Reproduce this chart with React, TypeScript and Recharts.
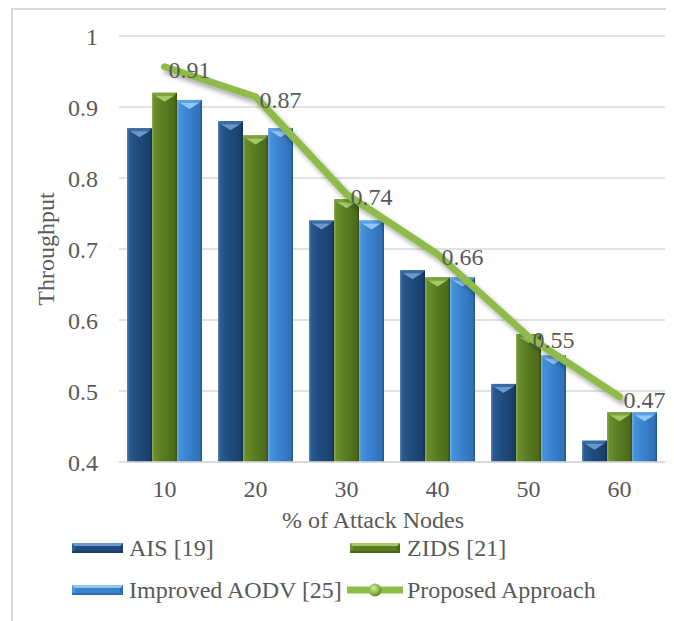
import { ComposedChart, Bar, Line, XAxis, YAxis, CartesianGrid, LabelList } from "recharts"

let categories = ["10", "20", "30", "40", "50", "60"]
let aisValues = [0.87, 0.88, 0.74, 0.67, 0.51, 0.43]
let zidsValues = [0.92, 0.86, 0.77, 0.66, 0.58, 0.47]
let aodvValues = [0.91, 0.87, 0.74, 0.66, 0.55, 0.47]
let proposedValues = [0.91, 0.87, 0.74, 0.66, 0.55, 0.47]
let yTicks = [0.4, 0.5, 0.6, 0.7, 0.8, 0.9, 1]

let chartData = categories.map((c, i) => ({
  name: c,
  ais: aisValues[i],
  zids: zidsValues[i],
  aodv: aodvValues[i],
  proposed: proposedValues[i],
}))

let FONT = "'Liberation Serif', 'Times New Roman', serif"
let FS = 24
let TEXT = "#595959"
let GRID = "#D9D9D9"
let LINE_GREEN = "#8EBB4A"

let tones: Record<string, { l: string; m: string; r: string; top: string; tri: string }> = {
  ais: { l: "#2C5F97", m: "#1F4B7C", r: "#183E67", top: "#3A6DA6", tri: "#6A98CC" },
  zids: { l: "#6E922F", m: "#5A7C22", r: "#49661A", top: "#7CA23A", tri: "#A5C865" },
  aodv: { l: "#4B95DF", m: "#3A82CE", r: "#2E6DB2", top: "#5AA2E6", tri: "#93C6F2" },
}

let BevelBar = (props: any) => {
  let { x, y, width, height, tone } = props
  if (!height || height <= 0) return null
  let c = tones[tone]
  let b = Math.min(9, height)
  return (
    <g>
      <rect x={x} y={y} width={width} height={height} fill={`url(#body-${tone})`} />
      <polygon points={`${x},${y} ${x + width},${y} ${x + width - 3},${y + 3} ${x + 3},${y + 3}`} fill={c.top} />
      <polygon points={`${x + 3},${y + 3} ${x + width - 3},${y + 3} ${x + width / 2},${y + b}`} fill={c.tri} />
      <rect x={x} y={y} width={1.5} height={height} fill="#ffffff" opacity={0.18} />
      <rect x={x + width - 1.5} y={y} width={1.5} height={height} fill="#000000" opacity={0.18} />
    </g>
  )
}

let YTitle = ({ viewBox }: any) => {
  let cx = viewBox.x + 33
  let cy = viewBox.y + viewBox.height / 2
  return (
    <text x={cx} y={cy} transform={`rotate(-90 ${cx} ${cy})`} textAnchor="middle" dominantBaseline="central"
      fill={TEXT} fontSize={FS} fontFamily={FONT}>
      Throughput
    </text>
  )
}

let XTitle = ({ viewBox }: any) => {
  let cx = viewBox.x + viewBox.width / 2 - 19
  let cy = viewBox.y + 58
  return (
    <text x={cx} y={cy} textAnchor="middle" dominantBaseline="central" fill={TEXT} fontSize={FS} fontFamily={FONT}>
      % of Attack Nodes
    </text>
  )
}

let PointLabel = ({ x, y, value }: any) => (
  <text x={x + 4} y={y + 3} dominantBaseline="central" fill={TEXT} fontSize={FS} fontFamily={FONT}>
    {value}
  </text>
)

let RectIcon = ({ tone, width }: { tone: string; width: number }) => {
  let c = tones[tone]
  return (
    <svg width={width} height={10} style={{ display: "block" }}>
      <rect x={0} y={0} width={width} height={10} fill={c.m} />
      <rect x={0} y={0} width={width} height={3} fill={c.tri} />
      <polygon points={`0,0 4,5 0,10`} fill={c.l} />
      <polygon points={`${width},0 ${width - 4},5 ${width},10`} fill={c.r} />
      <rect x={0} y={8} width={width} height={2} fill={c.r} />
    </svg>
  )
}

let LineIcon = () => (
  <svg width={56} height={20} style={{ display: "block" }}>
    <defs>
      <radialGradient id="ball" cx="40%" cy="35%" r="65%">
        <stop offset="0%" stopColor="#D6EE9A" />
        <stop offset="60%" stopColor="#8EBB4A" />
        <stop offset="100%" stopColor="#5E8328" />
      </radialGradient>
    </defs>
    <line x1={1} y1={10} x2={55} y2={10} stroke={LINE_GREEN} strokeWidth={7} strokeLinecap="round" />
    <circle cx={28} cy={10} r={6.5} fill="url(#ball)" />
  </svg>
)

let legendText = { color: TEXT, fontSize: FS, fontFamily: FONT, whiteSpace: "nowrap" as const }

export default function App() {
  return (
    <div
      style={{
        marginLeft: 3,
        width: 656,
        height: 611,
        border: `2px solid ${GRID}`,
        borderBottom: "none",
        position: "relative",
        background: "#fff",
      }}
    >
      <ComposedChart
        width={656}
        height={530}
        data={chartData}
        margin={{ top: 26, right: 4, left: 0, bottom: 0 }}
        barCategoryGap="8.8%"
        barGap={0}
      >
        <defs>
          {Object.keys(tones).map((k) => (
            <linearGradient key={k} id={`body-${k}`} x1="0" y1="0" x2="1" y2="0">
              <stop offset="0%" stopColor={tones[k].l} />
              <stop offset="45%" stopColor={tones[k].m} />
              <stop offset="100%" stopColor={tones[k].r} />
            </linearGradient>
          ))}
          <filter id="lineShadow" x="-10%" y="-10%" width="130%" height="140%">
            <feDropShadow dx={3} dy={4} stdDeviation={2.5} floodColor="#000" floodOpacity={0.35} />
          </filter>
        </defs>
        <CartesianGrid horizontal vertical={false} stroke={GRID} strokeWidth={1.5} />
        <XAxis
          dataKey="name"
          axisLine={{ stroke: GRID, strokeWidth: 1.5 }}
          tickLine={false}
          tickMargin={12}
          height={78}
          tick={{ fill: TEXT, fontSize: FS, fontFamily: FONT }}
          label={<XTitle />}
        />
        <YAxis
          domain={[0.4, 1]}
          ticks={yTicks}
          allowDataOverflow
          width={106}
          axisLine={false}
          tickLine={false}
          tickMargin={15}
          tickFormatter={(v: number) => (v === 1 ? "1" : v.toFixed(1))}
          tick={{ fill: TEXT, fontSize: FS, fontFamily: FONT }}
          label={<YTitle />}
        />
        {/* the proposed approach sits on its own hidden scale */}
        <YAxis yAxisId="line" hide domain={[0.383, 0.951]} allowDataOverflow />
        <Bar dataKey="ais" isAnimationActive={false} shape={(p: any) => <BevelBar {...p} tone="ais" />} />
        <Bar dataKey="zids" isAnimationActive={false} shape={(p: any) => <BevelBar {...p} tone="zids" />} />
        <Bar dataKey="aodv" isAnimationActive={false} shape={(p: any) => <BevelBar {...p} tone="aodv" />} />
        <Line
          yAxisId="line"
          type="linear"
          dataKey="proposed"
          stroke={LINE_GREEN}
          strokeWidth={7}
          strokeLinecap="round"
          strokeLinejoin="round"
          dot={false}
          filter="url(#lineShadow)"
          isAnimationActive={false}
        >
          <LabelList dataKey="proposed" content={<PointLabel />} />
        </Line>
      </ComposedChart>

      <div style={{ position: "absolute", left: 59, top: 526, display: "flex", alignItems: "center", height: 24 }}>
        <RectIcon tone="ais" width={51} />
        <span style={{ ...legendText, marginLeft: 6 }}>AIS [19]</span>
      </div>
      <div style={{ position: "absolute", left: 337, top: 526, display: "flex", alignItems: "center", height: 24 }}>
        <RectIcon tone="zids" width={50} />
        <span style={{ ...legendText, marginLeft: 7 }}>ZIDS [21]</span>
      </div>
      <div style={{ position: "absolute", left: 59, top: 568, display: "flex", alignItems: "center", height: 24 }}>
        <RectIcon tone="aodv" width={51} />
        <span style={{ ...legendText, marginLeft: 6 }}>Improved AODV [25]</span>
      </div>
      <div style={{ position: "absolute", left: 334, top: 568, display: "flex", alignItems: "center", height: 24 }}>
        <LineIcon />
        <span style={{ ...legendText, marginLeft: 4 }}>Proposed Approach</span>
      </div>
    </div>
  )
}
